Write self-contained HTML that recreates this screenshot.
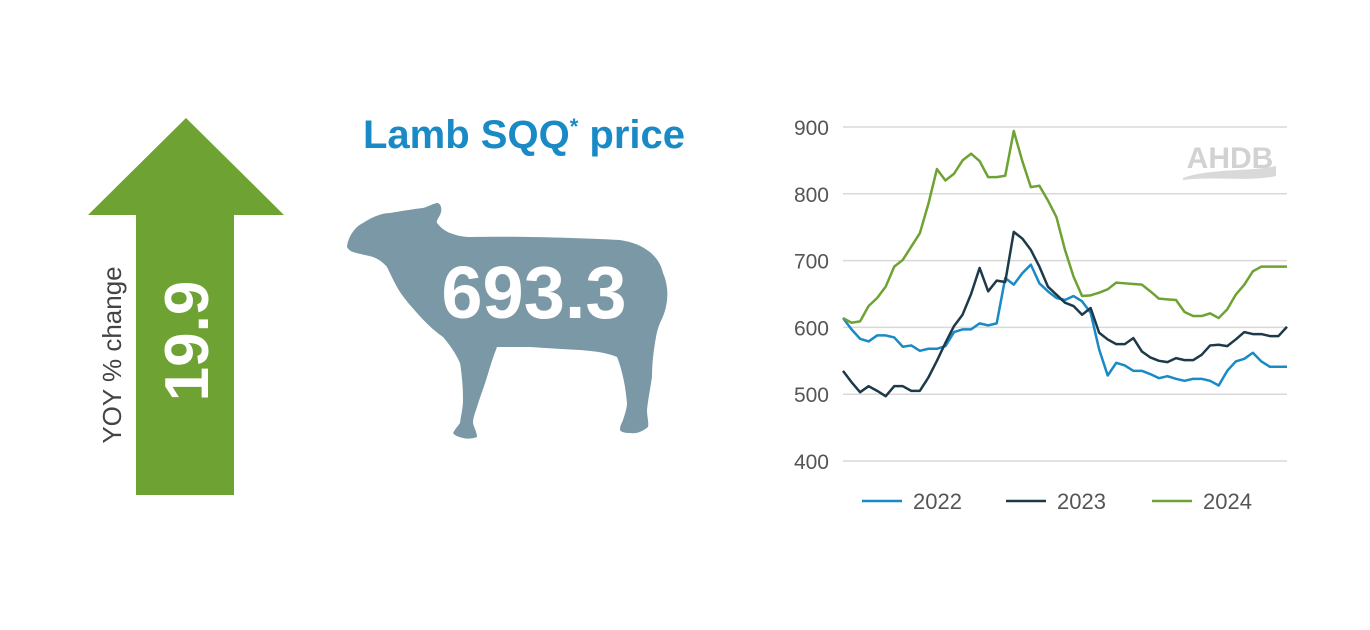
<!DOCTYPE html>
<html><head><meta charset="utf-8"><style>
body{margin:0;background:#fff;width:1370px;height:630px;overflow:hidden;font-family:"Liberation Sans",sans-serif}
svg{position:absolute;left:0;top:0}
</style></head><body>
<svg width="1370" height="630">
  <g>
    <polygon points="186,118 284,215 234,215 234,495 136,495 136,215 88,215" fill="#6ea232"/>
    <text x="0" y="0" transform="translate(208,341) rotate(-90)" text-anchor="middle" fill="#fff" font-size="62" font-weight="bold">19.9</text>
    <text x="0" y="0" transform="translate(121,355) rotate(-90)" text-anchor="middle" fill="#444" font-size="26">YOY % change</text>
  </g>
  <text x="363" y="148" fill="#1a8ac6" font-size="40" font-weight="bold" letter-spacing="0">Lamb SQQ<tspan font-size="22" dy="-14">*</tspan><tspan dy="14"> price</tspan></text>
  <path fill="#7b98a6" d="M347,247 C348,236 356,226 363,223 C372,217 382,213 390,213 C402,211 414,209 423,208 C430,206 434,203 438,203 C442,205 442,211 440,215 C438,219 436,221 437,223 C441,228 445,231 450,233 C458,236 464,237 470,237 C520,236 580,238 620,240 C632,242 640,245 647,250 C656,256 661,264 663,273 C667,282 668,292 667,300 C666,310 663,317 660,323 C657,330 656,337 655,343 C653,355 652,366 652,377 C650,390 648,400 647,410 C647,417 649,422 648,427 C642,432 636,434 630,433 C625,433 621,432 620,430 C620,425 622,423 623,420 C625,414 627,408 627,403 C626,394 625,385 623,377 C621,368 619,362 617,357 C605,352 592,351 580,350 C560,349 545,348 530,347 C518,347 507,347 497,347 C493,357 490,367 487,377 C484,387 480,397 477,407 C475,413 473,418 473,423 C474,428 477,432 477,437 C472,439 467,439 463,438 C459,437 455,436 453,433 C455,429 458,426 460,423 C461,415 463,408 463,400 C463,388 462,375 460,363 C455,352 449,344 443,337 C433,330 424,321 417,313 C409,304 402,296 397,287 C393,280 390,273 387,267 C383,262 378,259 373,257 C366,255 359,254 353,252 C350,251 348,249 347,247 Z"/>
  <text x="534" y="318" text-anchor="middle" fill="#fff" font-size="74" font-weight="bold">693.3</text>
  <g id="chart"></g>
  <g>
    <text x="1230" y="168" text-anchor="middle" fill="#d2d2d2" font-size="30" font-weight="bold">AHDB</text>
    <path d="M1183,178 C1210,168 1250,172 1276,166 L1276,176 C1250,182 1212,176 1183,180 Z" fill="#d9d9d9"/>
  </g>
</svg>
<script>
const yTicks=[400,500,600,700,800,900];
const seriesNames=["2022","2023","2024"];
const s2022=[614,597,583,579,588,588,585,571,573,565,568,568,572,593,597,597,606,603,606,674,664,681,694,666,654,644,641,647,639,622,567,528,547,543,535,535,530,524,527,523,520,523,523,520,513,535,549,553,562,549,541,541,541];
const s2023=[535,518,503,512,505,497,512,512,505,505,525,550,577,602,619,650,689,654,670,668,743,733,716,691,661,649,637,632,619,629,592,582,575,575,584,564,555,550,548,554,551,551,559,573,574,572,582,593,590,590,587,587,601];
const s2024=[614,607,609,632,644,661,691,701,721,741,785,837,820,830,850,860,849,825,825,827,894,849,810,812,790,765,716,676,647,648,652,657,667,666,665,664,654,643,642,641,623,617,617,621,614,627,649,664,684,691,691,691,691];
const colors=["#1a8ac6","#1d3a4a","#6ea232"];
const x0=843,x1=1287,yTop=127,yBot=461,vMin=400,vMax=900;
const ys=v=>yBot-(v-vMin)/(vMax-vMin)*(yBot-yTop);
const xs=(i,n)=>x0+i*(x1-x0)/(n-1);
const g=document.getElementById('chart');
const NS="http://www.w3.org/2000/svg";
yTicks.forEach(t=>{
  const l=document.createElementNS(NS,'line');
  
  
  l.setAttribute('x1',x0);l.setAttribute('x2',x1);l.setAttribute('y1',ys(t));l.setAttribute('y2',ys(t));
  l.setAttribute('stroke','#d9d9d9');l.setAttribute('stroke-width','1.5');g.appendChild(l);
  const tx=document.createElementNS(NS,'text');
  
  
  tx.setAttribute('x',829);tx.setAttribute('y',ys(t)+8);tx.setAttribute('text-anchor','end');
  tx.setAttribute('font-size','21');tx.setAttribute('fill','#555');tx.textContent=t;g.appendChild(tx);
});
[s2022,s2023,s2024].forEach((s,k)=>{
  const p=document.createElementNS(NS,'polyline');
  
  
  p.setAttribute('points',s.map((v,i)=>xs(i,s.length)+','+ys(v)).join(' '));
  p.setAttribute('fill','none');p.setAttribute('stroke',colors[k]);p.setAttribute('stroke-width','2.5');p.setAttribute('stroke-linejoin','round');
  g.appendChild(p);
});
const lx=[862,1006,1152];
seriesNames.forEach((n,k)=>{
  const l=document.createElementNS(NS,'line');
  
  
  l.setAttribute('x1',lx[k]);l.setAttribute('x2',lx[k]+40);l.setAttribute('y1',501);l.setAttribute('y2',501);
  l.setAttribute('stroke',colors[k]);l.setAttribute('stroke-width','2.5');g.appendChild(l);
  const t=document.createElementNS(NS,'text');
  
  
  t.setAttribute('x',lx[k]+51);t.setAttribute('y',509);t.setAttribute('font-size','22');t.setAttribute('fill','#555');
  t.textContent=n;g.appendChild(t);
});
</script>
</body></html>
